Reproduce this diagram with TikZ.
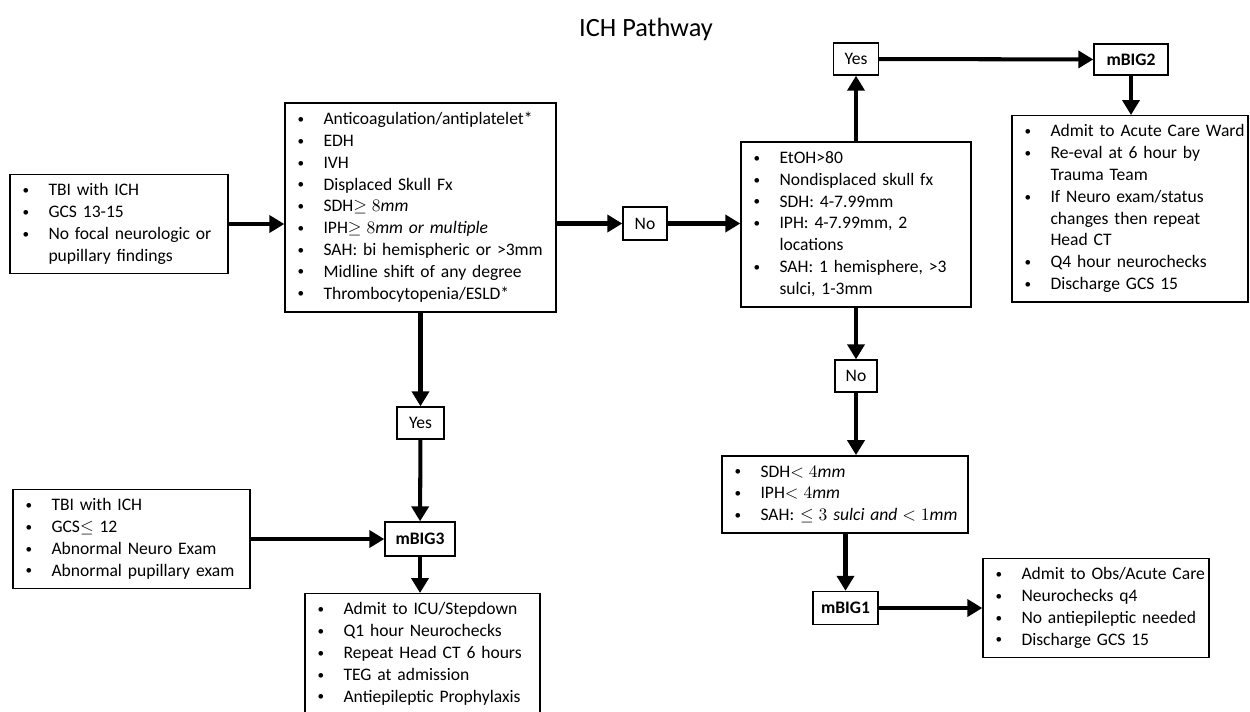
\documentclass[tikz,border=0pt]{standalone}
\usepackage{fontspec}
\setmainfont{Carlito}
\usepackage{amsmath}
\usepackage{amssymb}
\usetikzlibrary{arrows.meta,calc,positioning}

\newcommand{\blt}{\raisebox{0.15ex}{\scalebox{0.75}{\textbullet}}}

\begin{document}
\begin{tikzpicture}[
    x=0.02cm,
    y=-0.02cm,
    every node/.style={inner sep=2pt, font=\fontsize{10}{12.4}\selectfont},
    listbox/.style={draw, line width=0.8pt, align=left, inner xsep=0.25cm, inner ysep=0.12cm},
    tagbox/.style={draw, line width=0.8pt, inner sep=0pt},
    flow/.style={line width=2.3pt, -{Triangle[length=0.3cm,width=0.34cm]}}
]
\useasboundingbox (0,0) rectangle (1250,711);


% Title
\node (title) at (646,29) {\fontsize{15}{18}\selectfont ICH Pathway};


% Entry criteria
\node[listbox, text width=3.86cm, minimum height=1.96cm] (start) at (119,224) {%
\begin{tabular}{@{}p{0.52cm}@{}l@{}}
\blt & TBI with ICH\\
\blt & GCS 13-15\\
\blt & No focal neurologic or\\
 & pupillary findings
\end{tabular}};

\node[listbox, text width=4.92cm, minimum height=4.18cm] (critA) at (420.5,207.5) {%
\begin{tabular}{@{}p{0.52cm}@{}l@{}}
\blt & Anticoagulation/antiplatelet*\\
\blt & EDH\\
\blt & IVH\\
\blt & Displaced Skull Fx\\
\blt & SDH$\geq 8\textit{mm}$\\
\blt & IPH$\geq 8\textit{mm or multiple}$\\
\blt & SAH: bi hemispheric or >3mm\\
\blt & Midline shift of any degree\\
\blt & Thrombocytopenia/ESLD*
\end{tabular}};

\node[listbox, text width=4.1cm, minimum height=3.3cm] (critB) at (856,224.5) {%
\begin{tabular}{@{}p{0.52cm}@{}l@{}}
\blt & EtOH>80\\
\blt & Nondisplaced skull fx\\
\blt & SDH: 4-7.99mm\\
\blt & IPH: 4-7.99mm, 2\\
 & locations\\
\blt & SAH: 1 hemisphere, >3\\
 & sulci, 1-3mm
\end{tabular}};

\node[listbox, text width=4.42cm, minimum height=1.5cm] (critC) at (845,494.5) {%
\begin{tabular}{@{}p{0.52cm}@{}l@{}}
\blt & SDH$< 4\textit{mm}$\\
\blt & IPH$< 4\textit{mm}$\\
\blt & SAH: $\leq 3\ \textit{sulci and} < 1\textit{mm}$
\end{tabular}};

\node[listbox, text width=4.24cm, minimum height=1.96cm] (start3) at (131.5,539) {%
\begin{tabular}{@{}p{0.52cm}@{}l@{}}
\blt & TBI with ICH\\
\blt & GCS$\leq$ 12\\
\blt & Abnormal Neuro Exam\\
\blt & Abnormal pupillary exam
\end{tabular}};


% Decisions
\node[tagbox, minimum width=0.88cm, minimum height=0.66cm] (noA) at (645,223.5) {No};
\node[tagbox, minimum width=0.9cm, minimum height=0.64cm] (yesB) at (856,59) {Yes};
\node[tagbox, minimum width=0.94cm, minimum height=0.64cm] (yesA) at (420.5,423) {Yes};
\node[tagbox, minimum width=0.84cm, minimum height=0.64cm] (noB) at (856,376) {No};


% Levels
\node[tagbox, minimum width=1.48cm, minimum height=0.62cm] (mBIG2) at (1131,59.5) {\textbf{mBIG2}};
\node[tagbox, minimum width=1.4cm, minimum height=0.68cm] (mBIG3) at (420,539) {\textbf{mBIG3}};
\node[tagbox, minimum width=1.3cm, minimum height=0.66cm] (mBIG1) at (845.5,608) {\textbf{mBIG1}};


% Care plans
\node[listbox, anchor=north, text width=4.22cm] (care2) at (1130,115) {%
\begin{tabular}{@{}p{0.52cm}@{}l@{}}
\blt & Admit to Acute Care Ward\\
\blt & Re-eval at 6 hour by\\
 & Trauma Team\\
\blt & If Neuro exam/status\\
 & changes then repeat\\
 & Head CT\\
\blt & Q4 hour neurochecks\\
\blt & Discharge GCS 15
\end{tabular}};

\node[listbox, anchor=north, text width=4.2cm] (care3) at (422.5,593) {%
\begin{tabular}{@{}p{0.52cm}@{}l@{}}
\blt & Admit to ICU/Stepdown\\
\blt & Q1 hour Neurochecks\\
\blt & Repeat Head CT 6 hours\\
\blt & TEG at admission\\
\blt & Antiepileptic Prophylaxis
\end{tabular}};

\node[listbox, text width=4.02cm, minimum height=1.92cm] (care1) at (1096,608) {%
\begin{tabular}{@{}p{0.52cm}@{}l@{}}
\blt & Admit to Obs/Acute Care\\
\blt & Neurochecks q4\\
\blt & No antiepileptic needed\\
\blt & Discharge GCS 15
\end{tabular}};


% Connectors
\draw[flow] (start.east) -- (start.east -| critA.west);
\draw[flow] (critA.east |- noA) -- (noA);
\draw[flow] (noA.east) -- (noA.east -| critB.west);

\draw[flow] (critB.north -| yesB) -- (yesB);
\draw[flow] (yesB) -- (mBIG2);
\draw[flow] (mBIG2) -- (mBIG2 |- care2.north);

\draw[flow] (critA.south -| yesA) -- (yesA);
\draw[flow] (yesA) -- (mBIG3);
\draw[flow] (start3) -- (mBIG3);
\draw[flow] (mBIG3) -- (mBIG3 |- care3.north);

\draw[flow] (critB.south -| noB) -- (noB);
\draw[flow] (noB) -- (noB |- critC.north);
\draw[flow] (critC.south -| mBIG1) -- (mBIG1);
\draw[flow] (mBIG1) -- (care1);


\end{tikzpicture}
\end{document}
